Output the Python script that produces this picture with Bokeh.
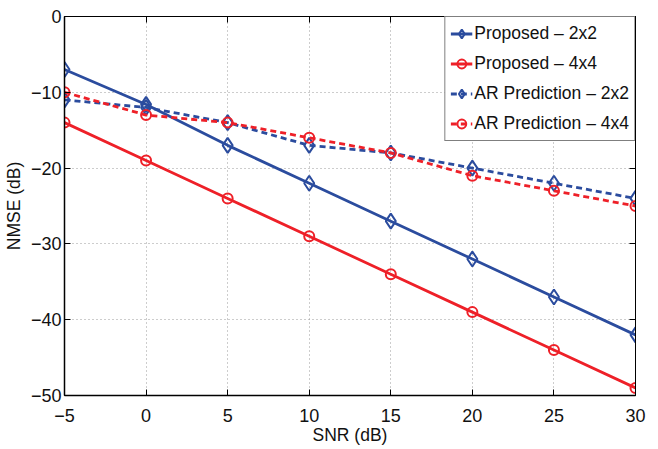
from bokeh.plotting import figure
from bokeh.embed import file_html
from bokeh.resources import INLINE
from bokeh.models import LinearAxis, FixedTicker, Legend, Range1d

snr = [-5, 0, 5, 10, 15, 20, 25, 30]
prop_2x2 = [-7, -11.6, -17, -22, -27, -32, -37, -42]
prop_4x4 = [-14, -19, -24, -29, -34, -39, -44, -49]
ar_2x2 = [-11, -12, -14, -17, -18, -20, -22, -24]
ar_4x4 = [-10, -13, -14, -16, -18, -21, -23, -25]
x_ticks = [-5, 0, 5, 10, 15, 20, 25, 30]
y_ticks = [0, -10, -20, -30, -40, -50]

FONT = "Liberation Sans"
BLUE = "#2B4C9E"
RED = "#EE2028"

p = figure(frame_width=571, frame_height=379, output_backend="svg", toolbar_location=None,
           x_range=Range1d(-5, 30), y_range=Range1d(-50, 0),
           min_border_left=57, min_border_right=12, min_border_top=16, min_border_bottom=38)
p.outline_line_color = "black"
p.outline_line_width = 1
p.outline_line_alpha = 1

for ax in (p.xaxis[0], p.yaxis[0]):
    ax.major_label_text_font = FONT
    ax.major_label_text_font_size = "18px"
    ax.major_label_text_color = "#111111"
    ax.axis_label_text_font = FONT
    ax.axis_label_text_font_size = "17.5px"
    ax.axis_label_text_font_style = "normal"
    ax.axis_label_text_color = "#111111"
    ax.major_tick_in = 6
    ax.major_tick_out = 0
    ax.minor_tick_line_color = None
    ax.axis_line_color = "black"
    ax.axis_line_width = 1.5
    ax.major_tick_line_color = "black"

p.xaxis[0].ticker = FixedTicker(ticks=x_ticks)
p.yaxis[0].ticker = FixedTicker(ticks=y_ticks)
p.xaxis[0].major_label_overrides = {t: (str(t).replace("-", "\u2212")) for t in x_ticks}
p.yaxis[0].major_label_overrides = {t: (str(t).replace("-", "\u2212")) for t in y_ticks}
p.xaxis[0].axis_label = "SNR (dB)"
p.yaxis[0].axis_label = "NMSE (dB)"
p.xaxis[0].major_label_standoff = 13
p.xaxis[0].axis_label_standoff = 0
p.yaxis[0].major_label_standoff = 3
p.yaxis[0].axis_label_standoff = 4

for loc, tk in (("above", x_ticks), ("right", y_ticks)):
    a = LinearAxis(ticker=FixedTicker(ticks=tk), major_tick_in=6, major_tick_out=0,
                   minor_tick_line_color=None, major_label_overrides={t: "" for t in tk},
                   major_label_standoff=0, axis_line_color="black")
    p.add_layout(a, loc)

p.xgrid.ticker = FixedTicker(ticks=x_ticks)
p.ygrid.ticker = FixedTicker(ticks=y_ticks)
for g in (p.xgrid[0], p.ygrid[0]):
    g.grid_line_color = "#9a9a9a"
    g.grid_line_dash = "1 3"
    g.grid_line_width = 1

items = []
specs = [
    ("Proposed \u2013 2x2", prop_2x2, BLUE, "solid", "diamond", 15),
    ("Proposed \u2013 4x4", prop_4x4, RED, "solid", "circle", 10),
    ("AR Prediction \u2013 2x2", ar_2x2, BLUE, "6 4", "diamond", 15),
    ("AR Prediction \u2013 4x4", ar_4x4, RED, "6 4", "circle", 10),
]
for label, ys, col, dash, mk, sz in specs:
    r1 = p.line(snr, ys, line_color=col, line_width=2.8, line_dash=dash)
    r2 = p.scatter(snr, ys, marker=mk, size=sz, line_color=col, line_width=2, fill_alpha=0)
    items.append((label, [r1, r2]))

leg = Legend(items=items, location="top_right")
leg.label_text_font = FONT
leg.label_text_font_size = "17.5px"
leg.label_text_color = "#111111"
leg.border_line_color = "black"
leg.border_line_width = 1.5
leg.glyph_width = 22
leg.glyph_height = 23
leg.label_height = 23
leg.spacing = 7
leg.padding = 5
leg.margin = 0
leg.label_standoff = 2
leg.background_fill_alpha = 1
p.add_layout(leg, "center")

open("out.html", "w").write(file_html(p, INLINE))
